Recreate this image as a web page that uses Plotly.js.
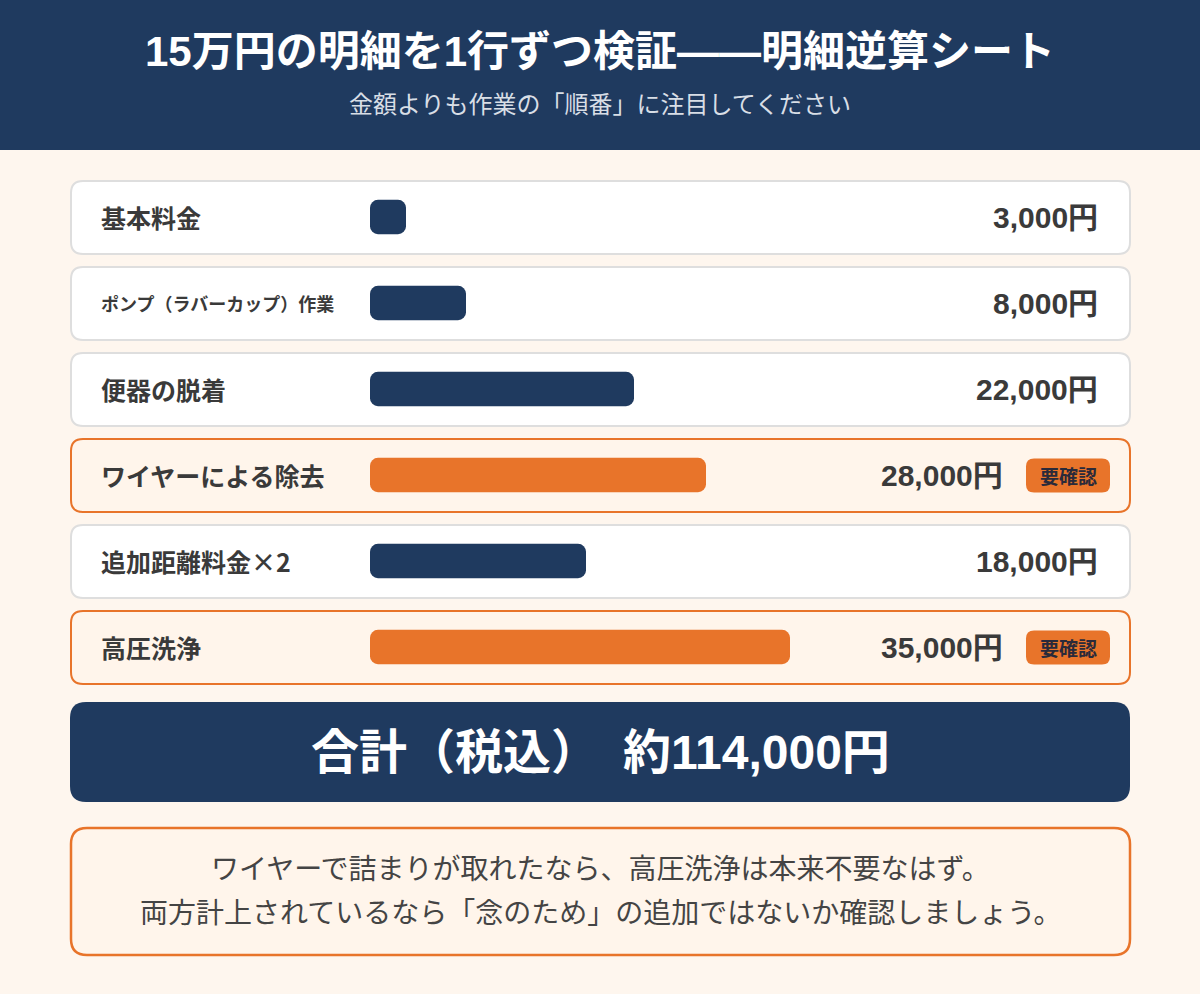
<!DOCTYPE html>
<html>
<head>
<meta charset="utf-8">
<script src="https://cdn.plot.ly/plotly-3.0.1.min.js"></script>
<style>
  html, body { margin: 0; padding: 0; background: #FEF6EE; }
  #plot { width: 1200px; height: 994px; }
</style>
</head>
<body>
<div id="plot"></div>
<script>
// line items of the invoice, top to bottom
var items = ["基本料金", "ポンプ（ラバーカップ）作業", "便器の脱着", "ワイヤーによる除去", "追加距離料金×2", "高圧洗浄"];
var amounts = [3000, 8000, 22000, 28000, 18000, 35000];
var flagged = [false, false, false, true, false, true];
var valueLabels = ["3,000円", "8,000円", "22,000円", "28,000円", "18,000円", "35,000円"];
var badgeText = "要確認";

var titleText = "15万円の明細を1行ずつ検証——明細逆算シート";
var subtitleText = "金額よりも作業の「順番」に注目してください";
var totalText = "合計（税込）　約114,000円";
var noteLines = ["ワイヤーで詰まりが取れたなら、高圧洗浄は本来不要なはず。",
                 "両方計上されているなら「念のため」の追加ではないか確認しましょう。"];

var W = 1200, H = 994;
var NAVY = "#1F3A5F", ORANGE = "#E8742A", BG = "#FEF6EE", HILITE = "#FFF5EB";
var FONT = "Liberation Sans, Noto Sans CJK JP, sans-serif";
var CJK = "Noto Sans CJK JP, Liberation Sans, sans-serif";

// pixel -> paper helpers
function px(x) { return x / W; }
function py(y) { return 1 - y / H; }
function roundRect(x0, y0, x1, y1, r) {
  var p = [
    "M", px(x0 + r), py(y0),
    "L", px(x1 - r), py(y0),
    "Q", px(x1), py(y0), px(x1), py(y0 + r),
    "L", px(x1), py(y1 - r),
    "Q", px(x1), py(y1), px(x1 - r), py(y1),
    "L", px(x0 + r), py(y1),
    "Q", px(x0), py(y1), px(x0), py(y1 - r),
    "L", px(x0), py(y0 + r),
    "Q", px(x0), py(y0), px(x0 + r), py(y0), "Z"
  ];
  return p.join(" ");
}
function note(x, y, text, font, xanchor, yref) {
  return { xref: "paper", yref: yref || "paper", x: x, y: y, text: text, showarrow: false,
    xanchor: xanchor || "center", yanchor: "middle", font: font };
}

var rowTop = 174, rowStep = 86;

// an explicit base makes plotly round all four corners of each bar
var trace = {
  type: "bar", orientation: "h",
  base: 0, x: amounts, y: items, width: 0.4,
  marker: { color: flagged.map(function (f) { return f ? ORANGE : NAVY; }), cornerradius: 8 },
  hoverinfo: "skip"
};

var shapes = [];
var annotations = [];

// header band
shapes.push({ type: "rect", xref: "paper", yref: "paper", x0: 0, x1: 1, y0: py(150), y1: 1,
  fillcolor: NAVY, line: { width: 0 }, layer: "below" });

annotations.push(note(0.5, py(51), "<b>" + titleText + "</b>", { family: FONT, size: 42, color: "#ffffff" }));
annotations.push(note(0.5, py(104), subtitleText, { family: FONT, size: 24, color: "#D8DEE6" }));

// one card per line item
items.forEach(function (name, i) {
  var top = rowTop + 7 + i * rowStep;
  var bottom = top + 73;
  shapes.push({
    type: "path", xref: "paper", yref: "paper", layer: "below",
    path: roundRect(71, top, 1130, bottom, 12),
    fillcolor: flagged[i] ? HILITE : "#ffffff",
    line: { color: flagged[i] ? ORANGE : "#DEDEDE", width: 2 }
  });
  annotations.push(note(px(99), name, "<b>" + name + "</b>",
    { family: CJK, size: name.length > 10 ? 18 : 25, color: "#3A3A3A" }, "left", "y"));
  annotations.push(note(px(flagged[i] ? 1005 : 1100), name, "<b>" + valueLabels[i] + "</b>",
    { family: FONT, size: 30, color: "#3A3A3A" }, "right", "y"));
  if (flagged[i]) {
    var cy = top + 36.5;
    shapes.push({
      type: "path", xref: "paper", yref: "paper",
      path: roundRect(1026, cy - 17, 1110, cy + 17, 8),
      fillcolor: ORANGE, line: { width: 0 }
    });
    annotations.push(note(px(1068), name, "<b>" + badgeText + "</b>",
      { family: CJK, size: 19, color: "#2A2A3A" }, "center", "y"));
  }
});

// total box
shapes.push({ type: "path", xref: "paper", yref: "paper",
  path: roundRect(70, 702, 1130, 802, 16), fillcolor: NAVY, line: { width: 0 } });
annotations.push(note(0.5, py(752), "<b>" + totalText + "</b>", { family: FONT, size: 48, color: "#ffffff" }));

// note box
shapes.push({ type: "path", xref: "paper", yref: "paper",
  path: roundRect(71, 828, 1130, 955, 16), fillcolor: HILITE, line: { color: ORANGE, width: 2.5 } });
noteLines.forEach(function (line, k) {
  annotations.push(note(0.5, py(869 + k * 44), line, { family: FONT, size: 28, color: "#444444" }));
});

var layout = {
  width: W, height: H,
  margin: { l: 0, r: 0, t: 0, b: 0 },
  paper_bgcolor: BG,
  plot_bgcolor: "rgba(0,0,0,0)",
  showlegend: false,
  xaxis: {
    domain: [px(370), px(850)], range: [0, 40000],
    showgrid: false, zeroline: false, showticklabels: false, fixedrange: true
  },
  yaxis: {
    domain: [py(rowTop + rowStep * items.length), py(rowTop)],
    type: "category", range: [items.length - 0.5, -0.5],
    showgrid: false, zeroline: false, showticklabels: false, fixedrange: true
  },
  shapes: shapes,
  annotations: annotations
};

Plotly.newPlot("plot", [trace], layout, { displayModeBar: false, staticPlot: true });
</script>
</body>
</html>
